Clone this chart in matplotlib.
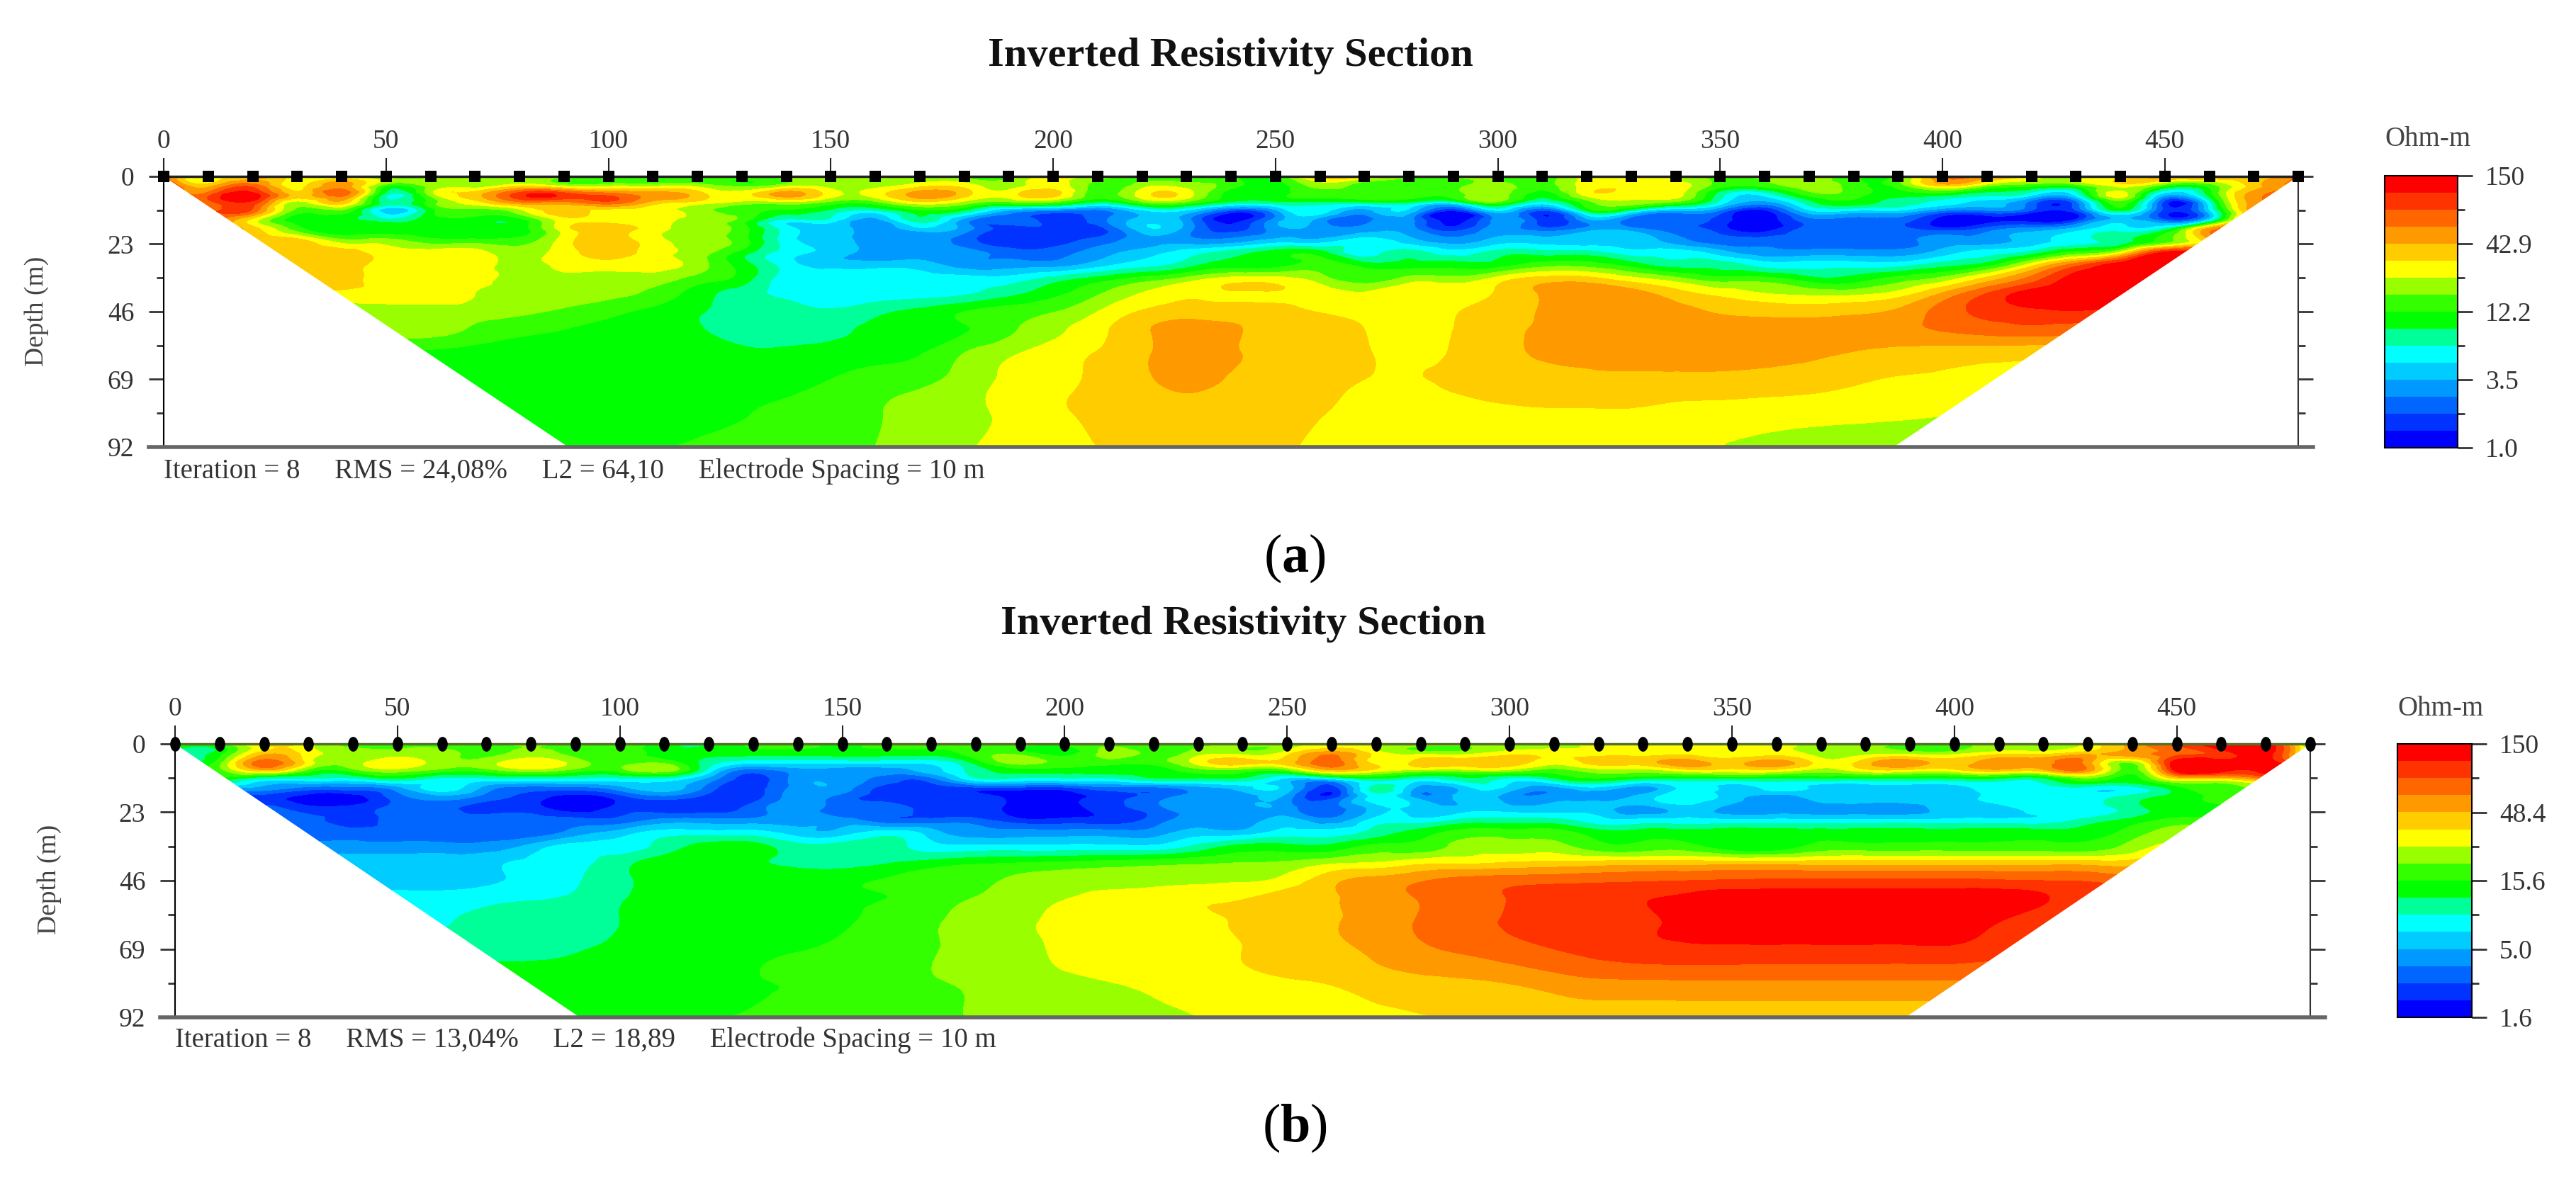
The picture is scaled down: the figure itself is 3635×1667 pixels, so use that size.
import matplotlib
matplotlib.use("Agg")
import matplotlib.pyplot as plt
import matplotlib.path as mpath
import matplotlib.tri as mtri
from matplotlib.patches import Polygon
from matplotlib.transforms import Affine2D
import numpy as np

plt.rcParams['font.family'] = ['Liberation Serif', 'DejaVu Serif']
plt.rcParams['mathtext.fontset'] = 'custom'
plt.rcParams['mathtext.rm'] = 'Liberation Serif'
plt.rcParams['mathtext.bf'] = 'Liberation Serif:bold'

W, H = 3635, 1667

# Colour bands of the resistivity scale, lowest first
band_colors = ['#0000ff', '#0033ff', '#0066ff', '#0099ff', '#00ccff', '#00ffff',
               '#00ff99', '#00ff00', '#33ff00', '#99ff00', '#ffff00', '#ffcc00',
               '#ff9900', '#ff6600', '#ff3300', '#ff0000']

# Survey line
electrode_x = list(range(0, 490, 10))
x_ticks = [0, 50, 100, 150, 200, 250, 300, 350, 400, 450]
depth_ticks = [0, 23, 46, 69, 92]
depth_minor = [11.5, 34.5, 57.5, 80.5]

# Section outline, distance and depth
outline_x = [0, 91, 389, 480]
outline_depth = [0, 92, 92, 0]

# Depth of each row in the band tables
depth_m = [0, 3, 6, 9, 12, 15, 18, 22, 26, 30, 35, 40, 46, 52, 60, 69, 80, 92]

# Colour band read at every electrode (a), one row per depth
band_a = [
    [14,10,12,10,9,8,8,9,9,9,8,8,8,8,9,9, 9,9,8,8,10,9,8,8,8,8,12,11,9,9,9,8, 10,10,10,8,9,9,8,8,13,12,10,9,10,12,12,11,13],
    [15,11,13,10,12,8,9,9,10,9,9,9,9,8,9,9, 9,10,10,9,10,8,9,9,8,7,9,8,8,8,9,8, 10,10,10,8,8,9,8,8,11,9,8,8,10,8,8,11,13],
    [15,13,15,11,13,6,9,11,14,14,13,12,11,10,12,10, 10,12,11,10,11,8,10,10,7,7,8,8,8,8,9,7, 10,10,10,6,5,8,8,7,7,6,5,5,10,4,7,12,13],
    [14,13,14,9,11,6,8,10,12,12,13,11,10,9,9,8, 8,10,9,8,8,6,8,8,6,6,6,6,6,5,8,5, 8,9,8,5,3,6,7,6,5,4,2,2,8,1,5,12,13],
    [14,13,13,8,8,4,7,8,9,11,10,10,9,8,7,6, 5,7,6,3,2,2,4,4,1,3,5,3,4,0,4,1, 6,5,3,2,0,4,4,4,2,2,1,1,6,1,4,12,13],
    [13,13,10,7,7,6,7,7,7,10,10,10,9,8,5,5, 3,6,3,2,1,2,4,3,0,3,3,2,3,0,3,1, 3,2,2,1,0,2,2,2,0,0,0,1,4,2,5,13,13],
    [12,12,11,8,7,7,7,7,7,10,11,10,9,8,5,4, 3,4,3,1,1,1,4,3,1,3,3,3,3,1,3,2, 3,3,2,1,0,2,2,2,1,2,3,4,5,6,12,13,13],
    [11,11,11,11,9,9,8,8,8,10,11,10,9,8,5,4, 3,3,2,1,1,2,3,3,3,4,4,5,4,3,4,4, 4,4,3,2,2,2,2,2,3,3,4,5,6,8,11,13,13],
    [11,11,11,11,11,10,10,10,9,10,11,10,9,7,5,4, 3,3,3,2,2,3,4,5,6,7,7,5,6,5,6,6, 6,5,5,4,3,3,3,3,4,5,6,8,10,15,14,13,13],
    [11,11,11,11,11,10,10,10,9,10,10,10,9,7,5,4, 4,4,3,3,3,4,5,6,7,7,8,7,7,7,7,8, 8,7,6,6,5,5,5,5,6,7,10,13,15,15,15,14,13],
    [11,11,11,11,11,10,10,10,9,9,9,9,8,7,5,5, 5,5,5,5,6,7,8,9,10,10,9,8,9,9,10,11, 11,10,9,8,8,7,7,8,9,11,13,15,15,15,15,14,13],
    [10.2,10.2,10.2,10.2,10.2,10.2,10.2,9.5,9.2,9,8.7,8.2,7,6,5.2,5, 5,5.1,5.4,6.2,7.2,8.4,9.6,10.4,10.4,10.4,10,9.6,10,10.2,10.6,11.6, 12.2,12,11,10.2,9.6,9.3,9.3,10,11.7,13.6,15,15.5,15.5,15,14.5,14,13.5],
    [9,9,9,9,9,9,9,9,8.7,8.3,7.8,7.2,6.6,6.1,5.9,5.6, 6.2,6.8,7.5,8,8.45,9.5,10.6,11,11,10.9,10.45,10.2,10.1,10.4,11.1,11.6, 12.2,12.1,11.8,11.4,11.2,11.1,11.3,11.7,12.9,13.8,14.2,14.4,14,13.5,13.5,13.5,13.5],
    [9,9,9,9,9,9,9,8.3,7.8,7.5,7.2,7,6.6,6.1,6,6.2, 6.8,7.1,7.4,8.3,9.2,10.2,11.3,11.9,11.6,11.3,11,10.5,10.2,10.5,11.2,11.6, 12,12,12,12,12,12,12,12.2,12.6,13,13.2,13,13,13,13,13,13],
    [7.3,7.3,7.3,7.3,7.3,7.3,7.3,7.1,7,7,7,7,7,6.7,6.7,6.9, 7.1,7.4,8.5,9.3,10,10.55,11.3,11.9,11.6,11.3,11,10.6,10.2,10.6,11.2,11.6, 11.8,12,12,12,11.9,11.7,11.45,11.2,11,10.9,10.8,10.8,10.8,10.8,10.8,10.8,10.8],
    [7,7,7,7,7,7,7,7,7,7,7,7,7,7,7,7.5, 7.9,8.2,8.9,9.7,10.2,10.7,11.3,11.8,11.4,11.1,10.8,10.5,10.4,10.7,11,11.1, 11.2,11.2,11.2,11.2,11.1,11,10.7,10.4,10.3,10.2,10.2,10.2,10.2,10.2,10.2,10.2,10.2],
    [7,7,7,7,7,7,7,7,7,7,7,7,7.3,7.45,7.7,8, 8.4,8.9,9.3,9.7,10.3,10.7,10.9,11,11,10.8,10.55,10.3,10.2,10.2,10.3,10.4, 10.4,10.4,10.2,10.1,10,9.9,9.8,9.7,9.6,9.5,9.5,9.5,9.5,9.5,9.5,9.5,9.5],
    [7,7,7,7,7,7,7,7,7,7,7.2,7.4,7.6,7.8,8,8.3, 8.5,9,9.4,9.8,10.2,10.5,10.8,11,10.8,10.6,10.4,10.2,10.1,10,10,10, 9.9,9.8,9.6,9.5,9.4,9.3,9.2,9.1,9,9,9,9,9,9,9,9,9],
]

# Colour band read at every electrode (b), one row per depth
band_b = [
    [8,8,11,10,8,8,8,8,9,8,8,7,6,8,8,7, 8,8,8,8,8,8,8,8,9,9,10,10,9,9,9,9, 10,10,10,10,10,9,9,8,8,9,9,10,12,14,15,15,7],
    [7,7,11,10,9,9,9,8,9,8,8,7,7,7,7,7, 7,7,8,8,7,9,8,9,9,10,12,10,9,9,10,10, 10,10,10,10,10,9,9,9,9,10,10,11,12,13,14,15,8],
    [7,8,13,10,9,10,9,9,10,9,8,8,6,5,5,5, 5,5,7,9,8,8,8,10,11,11,13,10,11,11,11,10, 11,11,12,11,12,10,11,12,11,12,12,12,9,15,15,15,10],
    [7,8,11,8,8,9,8,8,9,8,8,9,5,2,3,3, 3,4,6,7,7,7,7,8,8,8,11,10,9,9,9,8, 9,9,10,10,10,9,10,10,10,11,11,12,8,15,15,15,15],
    [7,7,5,5,5,6,5,5,5,5,5,5,3,1,3,3, 2,2,5,5,5,5,6,6,6,4,4,6,5,6,5,6, 7,6,6,6,6,6,6,6,6,6,6,8,7,10,10,12,12],
    [3,3,3,2,2,3,5,3,2,2,3,4,2,1,3,3, 1,1,1,1,1,2,2,3,4,4,1,6,3,4,4,3, 4,3,5,4,5,4,4,4,4,5,5,5,5,7,8,9,9],
    [1,1,1,0,0,2,3,2,1,0,1,2,1,1,3,2, 1,1,1,0,0,1,2,3,3,3,1,5,3,4,3,3, 3,4,5,4,3,4,4,4,4,5,5,5,6,7,8,9,9],
    [2,2,2,1,1,2,2,1,1,0,1,1,1,2,3,2, 2,1,1,0,0,1,2,3,3,3,2,4,4,4,4,4, 4,3,4,3,3,3,3,3,4,4,5,5,6,7,7,7,7],
    [2,2,2,2,1,2,2,2,2,2,2,3,3,3,3,3, 2,2,2,1,1,1,2,3,3,4,3,5,5,6,6,6, 5,5,5,5,5,5,5,5,5,5,5,6,7,8,8,8,8],
    [2,2,2,2,2,2,2,2,2,3,4,5,5,5,4,4, 5,4,3,3,3,3,3,4,4,5,5,6,7,8,8,8, 7,7,7,7,7,7,7,7,7,7,7,7,8,9,9,9,9],
    [3,3,3,3,3,3,3,3,4,5,5,6,7,7,6,6, 6,5,5,5,5,5,5,6,7,7,7,8,8,9,9,9, 8,8,8,7,7,8,8,8,8,8,8,8,9,10,10,10,10],
    [4,4,4,4,4,4,4,4.3,4.7,5.2,6.1,7,7.1,6.7,6.2,6.1, 6.4,6.9,7.3,7.5,7.7,7.9,8.1,8.3,8.5,8.7,9.3,9.6,10.2,10.3,10.6,10.8, 10.9,11,11,11,11,11,11,11,11,11,11,11,11,12,12,12,12],
    [4,4,4,4,4,4,4,4.3,4.8,5.4,6.2,7,7.1,7.2,7.2,7.3, 7.6,8,8.3,8.7,9,9.1,9.2,9.3,9.4,9.9,11.2,11.9,12.4,12.9,13.1,13.2, 13.3,13.4,13.5,13.6,13.7,13.7,13.7,13.7,13.7,13.6,13.5,13.4,13,13,13,13,13],
    [5,5,5,5,5,5,5,5.2,5.4,5.7,6.4,6.8,7,7.1,7.2,7.4, 7.5,8,8.55,9,9.45,9.9,10.1,10.3,10.45,11,11.4,12,12.55,13,13.55,14, 14.2,14.45,14.7,15.1,15.1,15.1,15.1,15.1,15.1,15.1,14.6,14.1,14,14,14,14,14],
    [5,5,5,5,5,5,5.4,5.7,6,6.2,6.5,6.8,7,7.1,7.2,7.4, 7.8,8.35,8.9,9.3,9.8,10,10.2,10.35,10.6,11,11.4,12,12.6,13.2,13.6,14, 14.2,14.4,14.7,15.1,15.1,15.1,15.1,15.1,15.1,14.5,14,14,14,14,14,14,14],
    [6.1,6.1,6.1,6.1,6.1,6.1,6.1,6.1,6.1,6.4,6.7,7,7.1,7.3,7.45,7.7, 8,8.4,8.85,9.2,9.7,10,10.2,10.35,10.5,10.9,11.3,11.7,12.3,12.7,13.1,13.5, 13.9,14.2,14.3,14.3,14.3,14.3,14.3,14.3,14.3,14,14,14,14,14,14,14,14],
    [7,7,7,7,7,7,7,7,7,7,7,7,7,7.4,7.6,7.9, 8.1,8.4,8.7,9.1,9.3,9.5,9.8,10,10.2,10.4,10.6,11,11.2,11.35,11.6,12, 12.3,12.35,12.4,12.4,12.4,12.4,12.4,12.4,12.4,12.3,12.3,12.3,12.3,12.3,12.3,12.3,12.3],
    [7,7,7,7,7,7,7,7,7,7,7.1,7.2,7.4,7.6,7.9,8, 8.2,8.35,8.55,8.8,9,9.15,9.3,9.5,10,10.1,10.2,10.3,10.45,10.6,10.8,11, 11.1,11.1,11.1,11.1,11.1,11.1,11.1,11.1,11.1,11.1,11.1,11.1,11.1,11.1,11.1,11.1,11.1],
]

scale_a = ['1.0', '3.5', '12.2', '42.9', '150']
scale_b = ['1.6', '5.0', '15.6', '48.4', '150']

footer_a = "Iteration = 8     RMS = 24,08%     L2 = 64,10     Electrode Spacing = 10 m"
footer_b = "Iteration = 8     RMS = 13,04%     L2 = 18,89     Electrode Spacing = 10 m"
title_text = "Inverted Resistivity Section"

TICK_COLOR = '#333333'
levels = np.arange(len(band_colors) + 1) - 0.5
tall_oval = mpath.Path.unit_circle().transformed(Affine2D().scale(0.7, 1.0))


def px_axes(fig, left, top, right, bottom):
    return fig.add_axes([left / W, 1 - bottom / H, (right - left) / W, (bottom - top) / H])


def put_text(fig, x, y, s, **kw):
    return fig.text(x / W, 1 - y / H, s, **kw)


def draw_panel(fig, box, bands, marker, marker_size, top_color, scale_labels, bar_box):
    ax = px_axes(fig, *box)

    # contour through the table with the library's smooth refiner
    xx, dd = np.meshgrid(electrode_x, depth_m)
    tri = mtri.Triangulation(xx.ravel(), dd.ravel())
    fine_tri, fine_z = mtri.UniformTriRefiner(tri).refine_field(np.array(bands, dtype=float).ravel(), subdiv=3)
    fine_z = np.clip(fine_z, levels[0] + 0.01, levels[-1] - 0.01)
    cs = ax.tricontourf(fine_tri, fine_z, levels=levels, colors=band_colors)
    outline = Polygon(list(zip(outline_x, outline_depth)), transform=ax.transData)
    cs.set_clip_path(outline)

    ax.set_xlim(0, 480)
    ax.set_ylim(92, 0)
    ax.xaxis.tick_top()
    ax.set_xticks(x_ticks)
    ax.set_yticks(depth_ticks)
    ax.set_yticks(depth_minor, minor=True)
    ax.tick_params(axis='x', which='major', length=19, width=1.5, pad=4, labelsize=27,
                   labelcolor=TICK_COLOR, color='#222222')
    ax.tick_params(axis='y', which='major', length=15, width=2, pad=15, labelsize=27,
                   labelcolor=TICK_COLOR, color='#333333', right=True)
    ax.tick_params(axis='y', which='minor', length=7.5, width=2, color='#333333', right=True)

    ax.spines['top'].set_visible(False)
    ax.spines['bottom'].set_visible(False)
    ax.spines['left'].set_linewidth(1.5)
    ax.spines['right'].set_linewidth(1.5)
    ax.spines['right'].set_color('#333333')

    ax.axhline(92, xmin=-0.007, xmax=1.007, color='#666666', lw=4, clip_on=False, zorder=4)
    ax.axhline(0, color=top_color, lw=2.5, clip_on=False, zorder=4)
    ax.plot(electrode_x, [0] * len(electrode_x), ls='none', marker=marker, ms=marker_size,
            color='black', mew=0, clip_on=False, zorder=5)

    cax = px_axes(fig, *bar_box)
    cb = fig.colorbar(cs, cax=cax, ticks=levels[::4])
    cb.ax.set_yticklabels(scale_labels)
    cb.ax.set_yticks(levels[2::4], minor=True)
    cb.ax.tick_params(which='major', length=15, width=2, pad=13, labelsize=27,
                      labelcolor=TICK_COLOR, color='#333333')
    cb.ax.tick_params(which='minor', length=7.5, width=2, color='#333333')
    cb.outline.set_linewidth(1.5)
    return ax


fig = plt.figure(figsize=(W / 100, H / 100), dpi=100, facecolor='white')

draw_panel(fig, (231, 249, 3243, 631), band_a, 's', 11.5, '#222222', scale_a, (3365, 248, 3468, 632))
draw_panel(fig, (247, 1050, 3260, 1436), band_b, tall_oval, 15, '#55702a', scale_b, (3383, 1050, 3488, 1436))

put_text(fig, 1736, 79, title_text, fontsize=42, fontweight='bold', ha='center', va='center', color='#111111')
put_text(fig, 1754, 881, title_text, fontsize=42, fontweight='bold', ha='center', va='center', color='#111111')

put_text(fig, 231, 665, footer_a, fontsize=28, ha='left', va='center', color=TICK_COLOR)
put_text(fig, 247, 1468, footer_b, fontsize=28, ha='left', va='center', color=TICK_COLOR)

put_text(fig, 52, 439, "Depth (m)", fontsize=27, rotation=90, ha='center', va='center', color='#444444')
put_text(fig, 70, 1241, "Depth (m)", fontsize=27, rotation=90, ha='center', va='center', color='#444444')

put_text(fig, 3365, 197, "Ohm-m", fontsize=28, ha='left', va='center', color='#444444')
put_text(fig, 3383, 1000, "Ohm-m", fontsize=28, ha='left', va='center', color='#444444')

put_text(fig, 1827, 788, r"($\mathbf{a}$)", fontsize=55, ha='center', va='center', color='black')
put_text(fig, 1827, 1592, r"($\mathbf{b}$)", fontsize=55, ha='center', va='center', color='black')

fig.savefig("out.png", dpi=100)
